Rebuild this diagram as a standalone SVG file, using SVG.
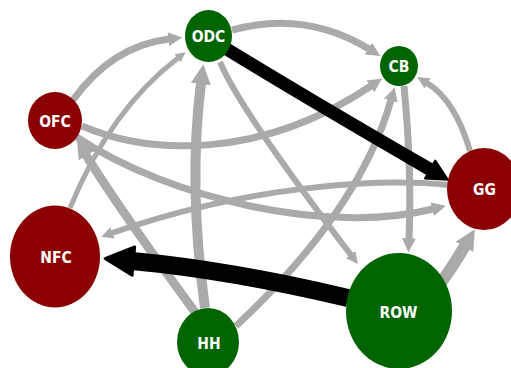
<svg xmlns="http://www.w3.org/2000/svg" width="511" height="368" viewBox="0 0 511 368">
<style>
.e{fill:none;stroke:#aaaaaa}
.k{fill:none;stroke:#000000}
.r{fill:#8b0000}
.g{fill:#006400}
.t{fill:#ffffff;font-family:"DejaVu Sans Condensed","DejaVu Sans",sans-serif;font-weight:bold;font-size:15.5px;text-anchor:middle}
</style>
<defs>
<marker id="ag" viewBox="0 0 10 10" refX="0.5" refY="5" markerWidth="2" markerHeight="2.3" orient="auto" markerUnits="strokeWidth"><path d="M0,0 L10,5 L0,10 z" fill="#aaaaaa"/></marker>
<marker id="agb" viewBox="0 0 10 10" refX="0.5" refY="5" markerWidth="1.7" markerHeight="2.1" orient="auto" markerUnits="strokeWidth"><path d="M0,0 L10,5 L0,10 z" fill="#aaaaaa"/></marker>
<marker id="ak" viewBox="-1 -1 12 12" refX="0.5" refY="5" markerWidth="1.9" markerHeight="2.3" orient="auto" markerUnits="strokeWidth"><path d="M0,0 L10,5 L0,10 z" fill="#000000" stroke="#000000" stroke-width="1" stroke-linejoin="round"/></marker>
</defs>
<g id="edges">
<path class="e" stroke-width="7" d="M73,100 Q112,46 169,39" marker-end="url(#ag)"/>
<path class="e" stroke-width="7" d="M232,30 Q305,10 369,49" marker-end="url(#ag)"/>
<path class="e" stroke-width="10" d="M205,308 Q188,185 201,83" marker-end="url(#ag)"/>
<path class="e" stroke-width="5" d="M70,208 Q110,110 178,58" marker-end="url(#ag)"/>
<path class="e" stroke-width="7" d="M82,126 C150,155 260,160 371,86" marker-end="url(#ag)"/>
<path class="e" stroke-width="6" d="M220,62 Q240,110 351,255" marker-end="url(#ag)"/>
<path class="e" stroke-width="7" d="M404,86 Q412,170 409,239" marker-end="url(#ag)"/>
<path class="e" stroke-width="7" d="M236,326 Q360,210 391,100" marker-end="url(#ag)"/>
<path class="e" stroke-width="6" d="M470,151 Q455,100 427,83" marker-end="url(#ag)"/>
<path class="e" stroke-width="12" d="M438,287 Q452,268 465,246" marker-end="url(#agb)"/>
<path class="e" stroke-width="7" d="M75,136 C170,200 330,235 433,209" marker-end="url(#ag)"/>
<path class="e" stroke-width="6" d="M448,185 C380,178 250,185 112,233" marker-end="url(#ag)"/>
<path class="e" stroke-width="9" d="M195,312 Q120,210 86,155" marker-end="url(#ag)"/>
<path class="k" stroke-width="13" d="M225,48 Q310,100 431,170" marker-end="url(#ak)"/>
<path class="k" stroke-width="18" d="M348,298 Q230,270 132,261" marker-end="url(#ak)"/>
</g>
<g id="ODC"><ellipse class="g" cx="208.5" cy="36" rx="23.5" ry="26"/><text class="t" x="208.5" y="41.5">ODC</text></g>
<g id="CB"><ellipse class="g" cx="399" cy="66" rx="19" ry="20"/><text class="t" x="399" y="71.5">CB</text></g>
<g id="OFC"><ellipse class="r" cx="55" cy="120.5" rx="27" ry="28.5"/><text class="t" x="55" y="126.5">OFC</text></g>
<g id="GG"><ellipse class="r" cx="484" cy="189" rx="37" ry="41"/><text class="t" x="484.5" y="194.5">GG</text></g>
<g id="NFC"><ellipse class="r" cx="55" cy="256.5" rx="45" ry="51"/><text class="t" x="56" y="262.5">NFC</text></g>
<g id="HH"><ellipse class="g" cx="208" cy="342" rx="31" ry="34"/><text class="t" x="209" y="348.5">HH</text></g>
<g id="ROW"><ellipse class="g" cx="399" cy="311" rx="53" ry="58"/><text class="t" x="398.5" y="317.5">ROW</text></g>
</svg>
